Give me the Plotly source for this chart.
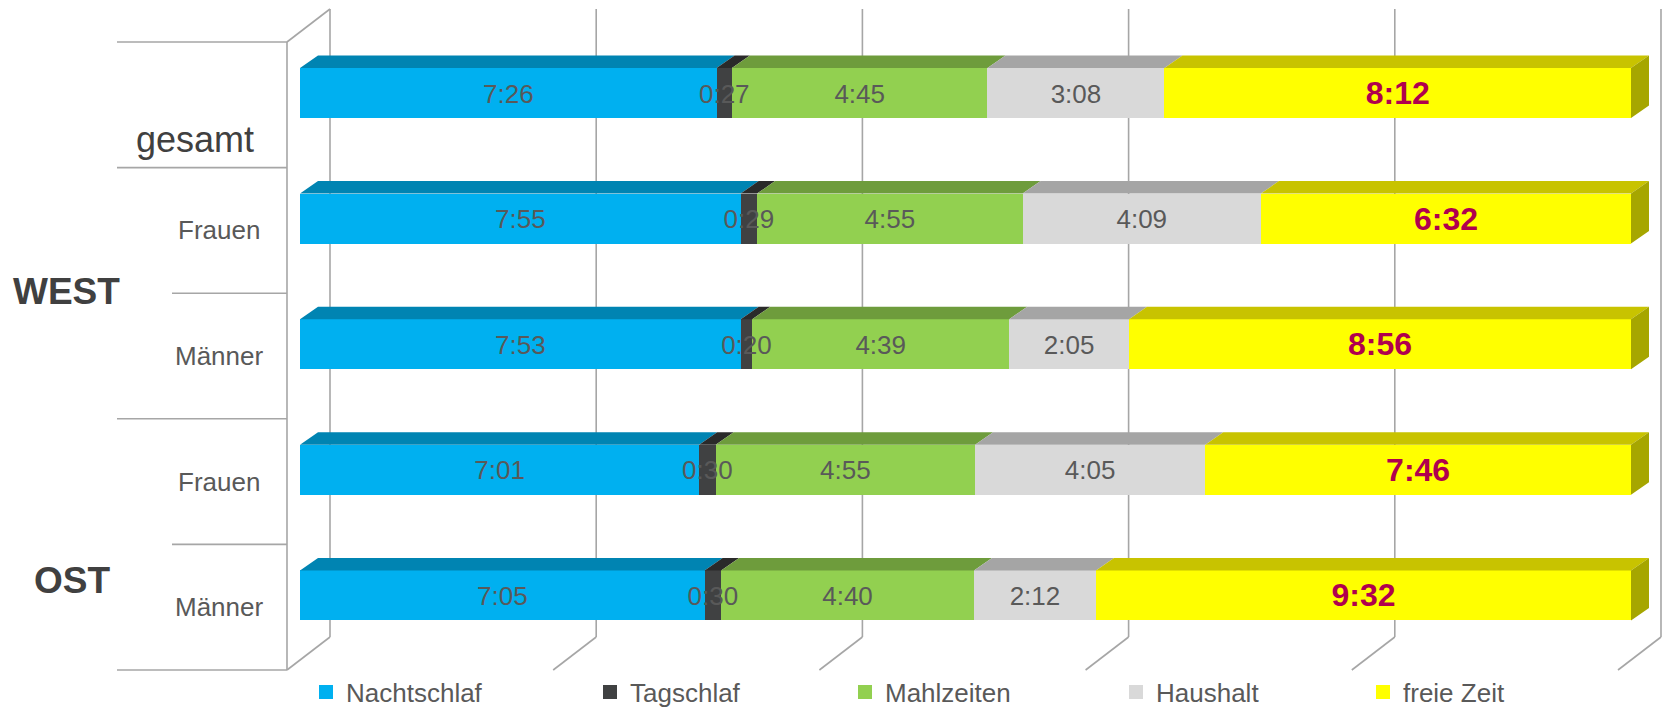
import plotly.graph_objects as go

# ---------------- data ----------------
row_labels = ["gesamt", "Frauen", "Männer", "Frauen", "Männer"]
group_labels = ["WEST", "OST"]
series_names = ["Nachtschlaf", "Tagschlaf", "Mahlzeiten", "Haushalt", "freie Zeit"]

# data labels as printed in the chart (h:mm)
nachtschlaf_lbl = ["7:26", "7:55", "7:53", "7:01", "7:05"]
tagschlaf_lbl = ["0:27", "0:29", "0:20", "0:30", "0:30"]
mahlzeiten_lbl = ["4:45", "4:55", "4:39", "4:55", "4:40"]
haushalt_lbl = ["3:08", "4:09", "2:05", "4:05", "2:12"]
freie_zeit_lbl = ["8:12", "6:32", "8:56", "7:46", "9:32"]

# bar lengths as drawn (share of the day in %)
nachtschlaf = [31.3, 33.1, 33.1, 30.0, 30.4]
tagschlaf = [1.15, 1.23, 0.86, 1.24, 1.24]
mahlzeiten = [19.2, 19.95, 19.3, 19.5, 19.0]
haushalt = [13.3, 17.9, 9.0, 17.3, 9.17]
freie_zeit = [35.05, 27.8, 37.7, 32.0, 40.2]

grid_ticks = [0, 20, 40, 60, 80, 100]

# ---------------- styles ----------------
front_colors = ["#00B0F0", "#404142", "#92D050", "#D9D9D9", "#FFFF00"]
top_colors = ["#0084B2", "#2A2A2A", "#6E9C3C", "#A5A5A5", "#C8C300"]
side_color = "#A6A600"
grid_color = "#A6A6A6"
font_family = "Liberation Sans, Arial, sans-serif"
label_grey = "#595959"

W, H = 1663, 708
PX_PER_PCT = 13.31
PX_PER_ROW = 125.6
ZERO_PX = 300.0
ROW0_PX = 104.8
BAR_SHIFT = 11.8 / PX_PER_ROW
LABEL_SHIFT = 3.0 / PX_PER_ROW
BAR_W = 50.0 / PX_PER_ROW
DX = 18.0 / PX_PER_PCT
DY = 12.5 / PX_PER_ROW
WALL_FX = -13.0 / PX_PER_PCT
WALL_BX = 30.0 / PX_PER_PCT
WALL_DY = 33.0 / PX_PER_ROW

series_lbl = [nachtschlaf_lbl, tagschlaf_lbl, mahlzeiten_lbl, haushalt_lbl, freie_zeit_lbl]
series_raw = [nachtschlaf, tagschlaf, mahlzeiten, haushalt, freie_zeit]
n_rows = len(row_labels)
totals = [sum(series_raw[k][i] for k in range(5)) for i in range(n_rows)]
series_pct = [[series_raw[k][i] / totals[i] * 100 for i in range(n_rows)] for k in range(5)]

row_idx = list(range(n_rows))
front_y = [i - BAR_SHIFT for i in row_idx]

fig = go.Figure()

# ---------------- 3D walls / gridlines ----------------
shapes = []
line_style = dict(color=grid_color, width=1.6)
y_top_front = -0.5
y_bot_front = n_rows - 0.5
y_top_back = y_top_front - WALL_DY
y_bot_back = y_bot_front - WALL_DY
for t in grid_ticks:
    xb = t + WALL_BX
    xf = t + WALL_FX
    shapes.append(dict(type="line", xref="x", yref="y", x0=xb, x1=xb, y0=y_top_back, y1=y_bot_back,
                       line=line_style, layer="below"))
    shapes.append(dict(type="line", xref="x", yref="y", x0=xb, x1=xf, y0=y_bot_back, y1=y_bot_front,
                       line=line_style, layer="below"))
shapes.append(dict(type="line", xref="x", yref="y", x0=WALL_FX, x1=WALL_FX, y0=y_top_front, y1=y_bot_front,
                   line=line_style, layer="below"))
shapes.append(dict(type="line", xref="x", yref="y", x0=WALL_FX, x1=WALL_BX, y0=y_top_front, y1=y_top_back,
                   line=line_style, layer="below"))
long_x = (117 - ZERO_PX) / PX_PER_PCT
short_x = (172 - ZERO_PX) / PX_PER_PCT
sep_starts = [long_x, long_x, short_x, long_x, short_x, long_x]
for j, xs in enumerate(sep_starts):
    yb = j - 0.5
    shapes.append(dict(type="line", xref="x", yref="y", x0=xs, x1=WALL_FX, y0=yb, y1=yb,
                       line=line_style, layer="below"))

# ---------------- front faces (bars) ----------------
for k in range(5):
    fig.add_trace(go.Bar(
        x=series_pct[k], y=front_y, orientation="h", width=BAR_W,
        name=series_names[k], marker=dict(color=front_colors[k], line=dict(width=0)),
        showlegend=False, hoverinfo="skip",
    ))

# ---------------- top faces & side face ----------------
cum = [0.0] * n_rows
for k in range(5):
    xs, ys = [], []
    for i in row_idx:
        x0 = cum[i]
        x1 = cum[i] + series_pct[k][i]
        yt = front_y[i] - BAR_W / 2
        xs += [x0, x1, x1 + DX, x0 + DX, x0, None]
        ys += [yt, yt, yt - DY, yt - DY, yt, None]
    fig.add_trace(go.Scatter(x=xs, y=ys, mode="lines", fill="toself", fillcolor=top_colors[k],
                             line=dict(width=0, color=top_colors[k]), showlegend=False, hoverinfo="skip"))
    if k == 4:
        sx, sy = [], []
        for i in row_idx:
            x1 = cum[i] + series_pct[k][i]
            yt = front_y[i] - BAR_W / 2
            yb = front_y[i] + BAR_W / 2
            sx += [x1, x1 + DX, x1 + DX, x1, x1, None]
            sy += [yt, yt - DY, yb - DY, yb, yt, None]
        fig.add_trace(go.Scatter(x=sx, y=sy, mode="lines", fill="toself", fillcolor=side_color,
                                 line=dict(width=0, color=side_color), showlegend=False, hoverinfo="skip"))
    for i in row_idx:
        cum[i] += series_pct[k][i]

# ---------------- data labels ----------------
cum = [0.0] * n_rows
for k in range(5):
    mids = [cum[i] + series_pct[k][i] / 2 for i in row_idx]
    last = k == 4
    fig.add_trace(go.Scatter(
        x=mids, y=[v + LABEL_SHIFT for v in front_y], mode="text", text=series_lbl[k],
        textfont=dict(family=font_family, size=32 if last else 26,
                      color="#B0004E" if last else label_grey,
                      weight="bold" if last else "normal"),
        showlegend=False, hoverinfo="skip", cliponaxis=False,
    ))
    for i in row_idx:
        cum[i] += series_pct[k][i]

# ---------------- legend entries ----------------
legend_ids = ["legend", "legend2", "legend3", "legend4", "legend5"]
for k in range(5):
    fig.add_trace(go.Scatter(
        x=[None], y=[None], mode="markers", name=series_names[k],
        marker=dict(symbol="square", size=14, color=front_colors[k], line=dict(width=0)),
        legend=legend_ids[k], showlegend=True, hoverinfo="skip",
    ))

# ---------------- category labels ----------------
annotations = []
lab_x = (219 - ZERO_PX) / PX_PER_PCT
for i, lab in enumerate(row_labels):
    if i == 0:
        annotations.append(dict(x=(195 - ZERO_PX) / PX_PER_PCT, y=(139 - ROW0_PX) / PX_PER_ROW,
                                xref="x", yref="y", text=lab, showarrow=False,
                                font=dict(family=font_family, size=36, color="#404040")))
    else:
        annotations.append(dict(x=lab_x, y=i, xref="x", yref="y", text=lab, showarrow=False,
                                font=dict(family=font_family, size=26, color=label_grey)))
group_pos = [((66 - ZERO_PX) / PX_PER_PCT, (291.5 - ROW0_PX) / PX_PER_ROW),
             ((72 - ZERO_PX) / PX_PER_PCT, (580 - ROW0_PX) / PX_PER_ROW)]
for g, (gx, gy) in zip(group_labels, group_pos):
    annotations.append(dict(x=gx, y=gy, xref="x", yref="y", text="<b>%s</b>" % g, showarrow=False,
                            font=dict(family=font_family, size=37, color="#404040")))

# ---------------- legends ----------------
text_starts = [348, 632, 887, 1158, 1405]
legend_layout = {}
for lid, ts in zip(legend_ids, text_starts):
    legend_layout[lid] = dict(
        x=(ts - 42) / W, y=1 - 692 / H, xanchor="left", yanchor="middle",
        orientation="h", bgcolor="rgba(0,0,0,0)", borderwidth=0,
        font=dict(family=font_family, size=26, color=label_grey),
    )

fig.update_layout(
    width=W, height=H,
    margin=dict(l=0, r=0, t=0, b=0, autoexpand=False),
    paper_bgcolor="white", plot_bgcolor="white",
    barmode="stack", bargap=0,
    xaxis=dict(range=[-ZERO_PX / PX_PER_PCT, (W - ZERO_PX) / PX_PER_PCT], visible=False, fixedrange=True),
    yaxis=dict(range=[(H - ROW0_PX) / PX_PER_ROW, -ROW0_PX / PX_PER_ROW], visible=False, fixedrange=True),
    shapes=shapes,
    annotations=annotations,
    font=dict(family=font_family),
    **legend_layout,
)

fig.write_html("out.html")
